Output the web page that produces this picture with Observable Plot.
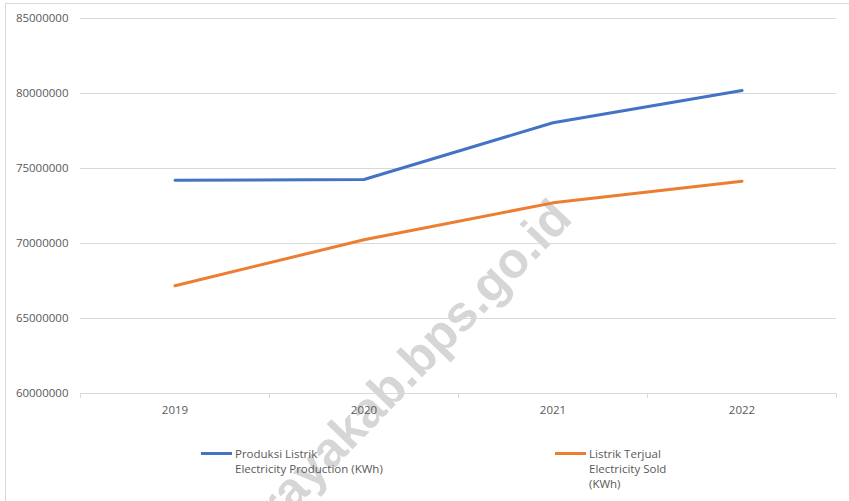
<!DOCTYPE html>
<html>
<head>
<meta charset="utf-8">
<script src="https://cdn.jsdelivr.net/npm/d3@7"></script>
<script src="https://cdn.jsdelivr.net/npm/@observablehq/plot@0.6"></script>
<style>
  html, body { margin: 0; padding: 0; background: #fff; }
  body { width: 849px; height: 501px; position: relative; overflow: hidden; font-family: "Open Sans", sans-serif; }
  #frame { position: absolute; left: 5px; top: 3px; width: 900px; height: 600px; border: 1px solid #d9d9d9; box-sizing: border-box; }
  #wm { position: absolute; left: 0; top: 0; }
  #chart { position: absolute; left: 0; top: 0; }
  .leg { position: absolute; font-size: 11.5px; color: #595959; line-height: 15px; }
  .leg .sw { position: absolute; width: 31px; height: 3px; left: -34px; top: 6px; }
</style>
</head>
<body>
<div id="frame"></div>
<svg id="wm" width="849" height="501">
  <text x="574" y="220" transform="rotate(-46 574 220)" text-anchor="end"
        font-family="Liberation Sans, Arial, sans-serif" font-weight="bold" font-size="50"
        fill="#d6d6d6">arayakab.bps.go.id</text>
</svg>
<div id="chart"></div>
<div id="legend"></div>
<script>
const years = ["2019", "2020", "2021", "2022"];
const production = [74220000, 74270000, 78050000, 80200000];
const sold = [67180000, 70250000, 72710000, 74150000];
const seriesNames = [
  ["Produksi Listrik", "Electricity Production (KWh)"],
  ["Listrik Terjual", "Electricity Sold", "(KWh)"]
];
const colors = ["#4472C4", "#ED7D31"];
const yTicks = [60000000, 65000000, 70000000, 75000000, 80000000, 85000000];

const rows = [];
years.forEach((y, i) => {
  rows.push({i: i + 0.5, year: y, value: production[i], s: 0});
  rows.push({i: i + 0.5, year: y, value: sold[i], s: 1});
});

const chart = Plot.plot({
  width: 849,
  height: 420,
  marginLeft: 80,
  marginRight: 13,
  marginTop: 18,
  marginBottom: 27,
  style: {background: "transparent", fontFamily: "Open Sans, sans-serif", fontSize: "11.5px", color: "#595959"},
  x: {domain: [0, years.length], axis: null},
  y: {domain: [60000000, 85000000], axis: null},
  marks: [
    Plot.gridY(yTicks, {stroke: "#d9d9d9", strokeOpacity: 1, strokeWidth: 1}),
    Plot.axisY({ticks: yTicks, tickFormat: d3.format("d"), tickSize: 0, tickPadding: 12, fill: "#595959", label: null}),
    Plot.axisX({ticks: d3.range(years.length + 1), tickFormat: () => "", tickSize: 5, stroke: "#d9d9d9", strokeOpacity: 1, label: null}),
    Plot.axisX({ticks: years.map((y, i) => i + 0.5), tickFormat: d => years[d - 0.5], tickSize: 0, tickPadding: 12, fill: "#595959", label: null}),
    Plot.line(rows, {x: "i", y: "value", z: "s", stroke: d => colors[d.s], strokeWidth: 3, strokeLinecap: "round"})
  ]
});
document.getElementById("chart").appendChild(chart);

const legendPos = [[235, 446], [589, 446]];
const leg = document.getElementById("legend");
seriesNames.forEach((lines, k) => {
  const d = document.createElement("div");
  d.className = "leg";
  d.style.left = legendPos[k][0] + "px";
  d.style.top = legendPos[k][1] + "px";
  d.innerHTML = `<span class="sw" style="background:${colors[k]}"></span>` + lines.join("<br>");
  leg.appendChild(d);
});
</script>
</body>
</html>
